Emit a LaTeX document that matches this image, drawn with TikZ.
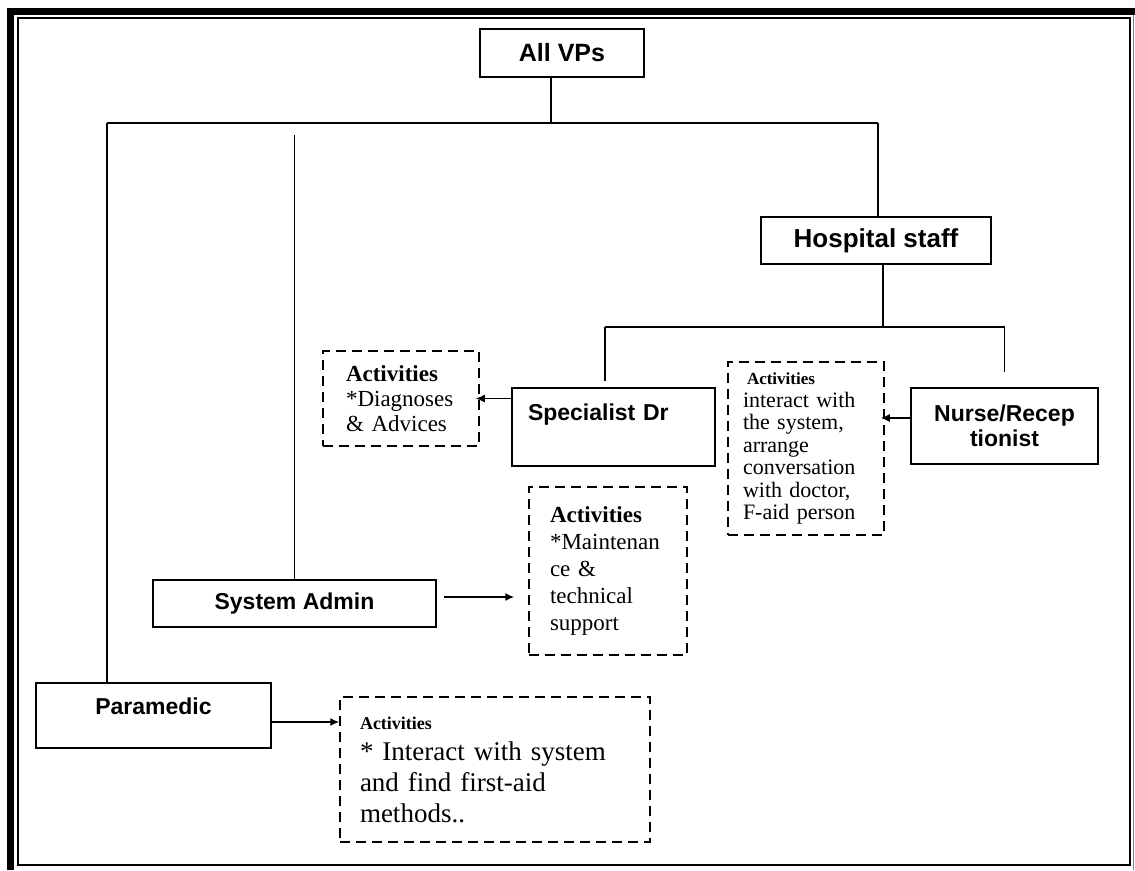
\documentclass[tikz,border=0pt]{standalone}
\usepackage{fontspec}
\setmainfont{Liberation Serif}
\newfontfamily\labelfont{Liberation Sans}
\usetikzlibrary{arrows.meta}

\begin{document}
\begin{tikzpicture}[>={Latex[length=9pt,width=8pt]}, x=1pt, y=-1pt,
  every path/.style={line width=1.5pt},
  role/.style={draw, line width=1.5pt, inner sep=0pt, align=center,
               font=\labelfont\bfseries\fontsize{23}{25}\selectfont},
  bigrole/.style={role, font=\labelfont\bfseries\fontsize{25}{28}\selectfont},
  activity/.style={draw, dash pattern=on 10pt off 6pt, line width=1.5pt,
                   inner ysep=0pt, align=left}]
% 0. page frame
\useasboundingbox (0,0) rectangle (1135,870);
\draw[line width=7pt] (10.5,870) -- (10.5,11.5) -- (1135,11.5);
\draw (18,18) rectangle (1130,865);
\draw[line width=1pt, gray] (1133,15) -- (1133,870);

% 1. the roles
\node[bigrole, minimum width=164pt, minimum height=48pt] (allvps) at (562,53) {All VPs};
\node[bigrole, minimum width=230pt, minimum height=47pt,
      font=\labelfont\bfseries\fontsize{26}{28}\selectfont] (staff) at (876,240.5) {Hospital staff};
\node[role, minimum width=203pt, minimum height=78pt, text width=171pt, inner xsep=16pt,
      align=left, text height=17pt, text depth=31pt]
     (specialist) at (613.5,427) {Specialist Dr};
\node[role, minimum width=187pt, minimum height=76pt] (nurse) at (1004.5,426) {Nurse/Recep\\tionist};
\node[role, minimum width=283pt, minimum height=47pt] (admin) at (294.5,603.5) {System Admin};
\node[role, minimum width=235pt, minimum height=65pt, text height=17pt, text depth=20pt]
     (paramedic) at (153.5,715.5) {Paramedic};

% 2. what each of them does
\node[activity, text width=110pt, inner xsep=23pt, minimum height=95pt,
      font=\fontsize{23}{25}\selectfont] (spec act) at (401,398.5)
     {\textbf{Activities}\\{*}Diagnoses\\\& Advices};
\node[activity, text width=126pt, inner xsep=15pt, minimum height=173pt,
      font=\fontsize{22}{22.5}\selectfont] (nurse act) at (806,448.5)
     {\hspace{4pt}{\fontsize{17}{20}\selectfont\textbf{Activities}}\\interact with\\the system,\\arrange\\conversation\\with doctor,\\F-aid person};
\node[activity, text width=116pt, inner xsep=21pt, minimum height=168pt,
      font=\fontsize{23}{27}\selectfont] (admin act) at (608,571)
     {\textbf{Activities}\\{*}Maintenan\\ce \&\\technical\\support};
\node[activity, text width=270pt, inner xsep=20pt, minimum height=145pt,
      font=\fontsize{27}{31}\selectfont] (para act) at (495,769.5)
     {{\fontsize{18}{20}\selectfont\textbf{Activities}}\\{*} Interact with system\\and find first-aid\\methods..};

% 3. tree lines
\coordinate (root) at (551,123);
\coordinate (left end) at (107,123);
\coordinate (right end) at (878,123);
\coordinate (admin top) at (admin.north |- 0,135);
\draw (allvps.south -| root) -- (root);
\draw (left end) -- (right end);
\draw (left end) -- (paramedic.north -| left end);
\draw (admin top) -- (admin.north);
\draw (right end) -- (staff.north -| right end);

\coordinate (staff root) at (883,327);
\coordinate (spec end) at (605,327);
\coordinate (nurse end) at (nurse.north |- 0,327);
\draw (staff.south -| staff root) -- (staff root);
\draw (spec end) -- (nurse end);
\draw (spec end) -- ([yshift=6pt]specialist.north -| spec end);
\draw (nurse end) -- ([yshift=15pt]nurse.north);

% 4. arrows to the activities
\draw[->, shorten >=-4pt] (specialist.west |- spec act) -- (spec act.east);
\draw[->, shorten >=-4pt] (nurse.west |- 0,418) -- (nurse act.east |- 0,418);
\draw[->, shorten <=7pt, shorten >=14pt] (admin.east |- 0,597) -- (admin act.west |- 0,597);
\draw[->] (paramedic.east |- 0,722) -- (para act.west |- 0,722);
\end{tikzpicture}
\end{document}
